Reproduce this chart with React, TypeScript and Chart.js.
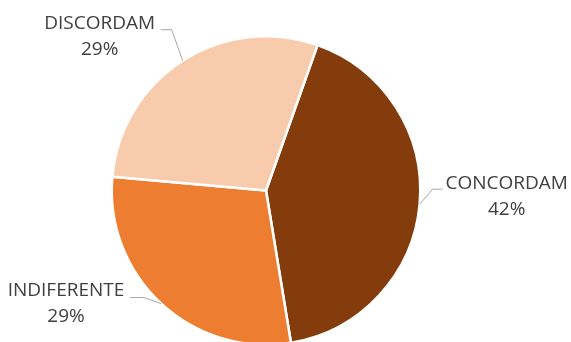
import React, { useEffect, useRef } from "react";
import { Chart, registerables } from "chart.js";

Chart.register(...registerables);

const categories = ["CONCORDAM", "INDIFERENTE", "DISCORDAM"];
const values = [42, 29, 29];
const colors = ["#843C0C", "#ED7D31", "#F8CBAD"];

// label placement relative to the slice's outer mid-point (dx, dy)
const labelOffsets = [
  { text: [87, -21], elbow: [13, -15], end: [23, -15] },
  { text: [-95, -13], elbow: [-17, -6], end: [-31, -6] },
  { text: [-83, -37], elbow: [-11, -31], end: [-22, -31] },
];

const FONT = '"Open Sans", sans-serif';

const labelPlugin = {
  id: "pieLabels",
  afterDraw(chart: any) {
    const ctx = chart.ctx;
    const meta = chart.getDatasetMeta(0);
    const total = values.reduce((a, b) => a + b, 0);
    meta.data.forEach((arc: any, i: number) => {
      const p = arc.getProps(["x", "y", "startAngle", "endAngle", "outerRadius"], true);
      const mid = (p.startAngle + p.endAngle) / 2;
      const ax = p.x + Math.cos(mid) * p.outerRadius;
      const ay = p.y + Math.sin(mid) * p.outerRadius;
      const o = labelOffsets[i];
      ctx.save();
      ctx.strokeStyle = "#A6A6A6";
      ctx.lineWidth = 1;
      ctx.beginPath();
      ctx.moveTo(ax, ay);
      ctx.lineTo(ax + o.elbow[0], ay + o.elbow[1]);
      ctx.lineTo(ax + o.end[0], ay + o.end[1]);
      ctx.stroke();
      ctx.fillStyle = "#404040";
      ctx.font = `19px ${FONT}`;
      ctx.textAlign = "center";
      ctx.textBaseline = "middle";
      const tx = ax + o.text[0];
      const ty = ay + o.text[1];
      ctx.fillText(categories[i], tx, ty);
      ctx.fillText(Math.round((values[i] / total) * 100) + "%", tx, ty + 26);
      ctx.restore();
    });
  },
};

export default function App() {
  const ref = useRef<HTMLCanvasElement>(null);
  useEffect(() => {
    document.body.style.margin = "0";
    const chart = new Chart(ref.current!, {
      type: "pie",
      data: {
        labels: categories,
        datasets: [
          {
            data: values,
            backgroundColor: colors,
            borderColor: "#FFFFFF",
            borderWidth: 2.5,
          },
        ],
      },
      options: {
        responsive: false,
        animation: false,
        rotation: 19.5,
        layout: { padding: { top: 35, bottom: 14, left: 100, right: 139 } },
        plugins: {
          legend: { display: false },
          tooltip: { enabled: false },
        },
      },
      plugins: [labelPlugin],
    });
    return () => chart.destroy();
  }, []);
  return (
    <div style={{ width: 571, height: 342, background: "#fff", overflow: "hidden" }}>
      <canvas ref={ref} width={571} height={360} style={{ display: "block" }} />
    </div>
  );
}
